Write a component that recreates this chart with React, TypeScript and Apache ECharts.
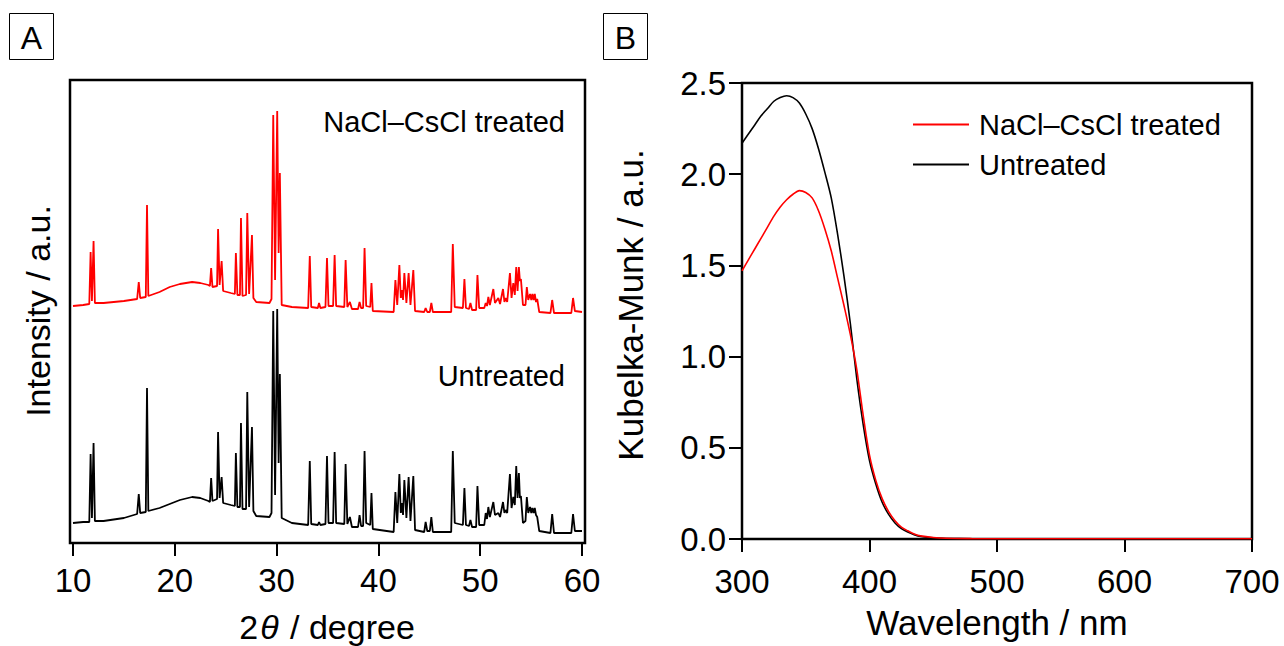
import React, { useEffect, useRef } from "react";
import * as echarts from "echarts";

const FONT = "'Liberation Sans', Arial, Helvetica, sans-serif";

// Panel A: XRD patterns, [2θ (degree), intensity (a.u., offset stacked)]
const xrdTreated: number[][] = [
  [10.0,237],[11.0,238],[11.6,239],[11.73,291],[11.86,242],[12.02,302],[12.15,240],[13.0,240],[15.0,242],[16.3,244],[16.46,261],[16.6,245],[17.15,246],[17.27,338],[17.4,247],[18.5,251],[19.5,256],[20.5,259],[21.7,261],[22.5,260],[23.3,258],[23.45,257],[23.57,275],[23.7,256],[24.15,257],[24.25,314],[24.4,258],[24.6,282],[24.75,252],[25.5,250],[25.9,249],[26.0,290],[26.15,248],[26.4,248],[26.5,325],[26.65,247],[27.0,248],[27.12,330],[27.3,249],[27.58,308],[27.72,245],[28.0,241],[29.3,240],[29.5,244],[29.67,428],[29.85,263],[30.06,432],[30.2,290],[30.32,370],[30.5,238],[31.5,236],[33.1,235],[33.26,287],[33.4,236],[34.05,235],[34.17,240],[34.3,235],[34.8,236],[34.95,285],[35.1,237],[35.55,237],[35.7,288],[35.85,237],[36.65,236],[36.78,283],[36.95,236],[37.2,241],[37.4,234],[38.0,234],[38.15,241],[38.3,235],[38.5,235],[38.64,295],[38.8,237],[39.2,236],[39.32,260],[39.45,232],[41.5,231],[41.67,263],[41.85,238],[42.06,278],[42.2,245],[42.3,253],[42.42,243],[42.55,270],[42.75,240],[42.97,270],[43.15,238],[43.43,273],[43.6,232],[44.5,231],[44.64,235],[44.8,231],[45.05,231],[45.2,240],[45.35,231],[47.15,231],[47.31,299],[47.5,236],[48.3,235],[48.45,264],[48.6,235],[48.9,234],[49.04,240],[49.2,233],[49.6,233],[49.73,268],[49.9,235],[50.4,235],[50.54,240],[50.67,237],[50.8,246],[50.95,238],[51.29,254],[51.45,240],[51.78,245],[51.95,239],[52.24,254],[52.38,241],[52.5,245],[52.65,241],[52.92,270],[53.08,245],[53.25,260],[53.4,248],[53.54,276],[53.67,252],[53.8,276],[53.9,262],[54.0,264],[54.2,238],[54.45,238],[54.58,256],[54.72,243],[54.9,249],[55.02,243],[55.13,249],[55.25,243],[55.36,249],[55.48,241],[55.6,244],[55.8,231],[56.9,230],[57.07,243],[57.25,230],[58.95,230],[59.12,245],[59.3,232],[60.0,231]
];

const xrdUntreated: number[][] = [
  [10.0,20],[11.0,21],[11.6,21],[11.73,89],[11.86,25],[12.02,100],[12.15,22],[13.0,22],[15.0,25],[16.3,29],[16.46,49],[16.6,30],[17.15,31],[17.27,155],[17.4,32],[18.5,35],[19.5,39],[20.5,43],[21.7,46],[22.5,45],[23.3,42],[23.45,41],[23.57,65],[23.7,42],[24.15,44],[24.25,111],[24.4,45],[24.6,66],[24.75,40],[25.5,38],[25.9,37],[26.0,90],[26.15,36],[26.4,36],[26.5,120],[26.65,34],[27.0,34],[27.12,151],[27.3,36],[27.58,116],[27.72,32],[28.0,27],[29.3,26],[29.5,30],[29.67,232],[29.85,48],[30.06,234],[30.2,80],[30.32,169],[30.5,25],[31.5,20],[33.1,18],[33.26,82],[33.4,19],[34.05,18],[34.17,21],[34.3,18],[34.8,19],[34.95,87],[35.1,20],[35.55,20],[35.7,91],[35.85,20],[36.65,19],[36.78,79],[36.95,19],[37.2,26],[37.4,16],[38.0,16],[38.15,28],[38.3,17],[38.5,17],[38.64,92],[38.8,20],[39.2,18],[39.32,50],[39.45,14],[41.5,11],[41.67,51],[41.85,20],[42.06,69],[42.2,30],[42.3,40],[42.42,28],[42.55,63],[42.75,25],[42.97,66],[43.15,22],[43.43,67],[43.6,13],[44.5,11],[44.64,21],[44.8,12],[45.05,12],[45.2,26],[45.35,11],[47.15,11],[47.31,92],[47.5,20],[48.3,18],[48.45,55],[48.6,18],[48.9,17],[49.04,23],[49.2,16],[49.6,16],[49.73,57],[49.9,18],[50.4,18],[50.54,30],[50.67,24],[50.8,36],[50.95,26],[51.29,41],[51.45,28],[51.78,30],[51.95,26],[52.24,41],[52.38,30],[52.5,33],[52.65,30],[52.92,69],[53.08,35],[53.25,46],[53.4,38],[53.54,77],[53.67,45],[53.8,70],[53.9,45],[54.0,47],[54.2,20],[54.45,22],[54.58,46],[54.72,30],[54.9,36],[55.02,30],[55.13,35],[55.25,30],[55.36,35],[55.48,28],[55.6,26],[55.8,12],[56.9,10],[57.07,29],[57.25,10],[58.95,10],[59.12,29],[59.3,12],[60.0,12]
];

// Panel B: Kubelka-Munk spectra, [wavelength (nm), K-M (a.u.)]
const kmTreated: number[][] = [
  [300,1.47],[305,1.53],[310,1.59],[315,1.65],[320,1.71],[325,1.77],[330,1.82],[335,1.86],[340,1.89],[345,1.91],[350,1.90],[355,1.87],[360,1.80],[365,1.70],[370,1.58],[375,1.43],[380,1.28],[385,1.12],[390,0.93],[395,0.68],[400,0.46],[405,0.32],[410,0.22],[415,0.15],[420,0.10],[425,0.065],[430,0.045],[435,0.028],[440,0.017],[450,0.008],[460,0.004],[480,0.002],[500,0.001],[600,0.001],[700,0.001]
];
const kmUntreated: number[][] = [
  [300,2.17],[305,2.22],[310,2.27],[315,2.32],[320,2.36],[325,2.40],[330,2.42],[335,2.43],[340,2.42],[345,2.39],[350,2.33],[355,2.25],[360,2.14],[365,2.01],[370,1.87],[375,1.67],[380,1.44],[385,1.18],[390,0.88],[395,0.63],[400,0.43],[405,0.30],[410,0.20],[415,0.135],[420,0.088],[425,0.057],[430,0.038],[435,0.024],[440,0.014],[450,0.006],[460,0.003],[480,0.001],[500,0.0],[600,0.0],[700,0.0]
];

const xTicksA = { min: 10, max: 60, interval: 10 };
const xTicksB = { min: 300, max: 700, interval: 100 };
const yTicksB = { min: 0, max: 2.5, interval: 0.5 };

const NAME_T = "NaCl–CsCl treated";
const NAME_U = "Untreated";

export default function App() {
  const ref = useRef<HTMLDivElement>(null);
  useEffect(() => {
    if (!ref.current) return;
    const chart = echarts.init(ref.current, null, { renderer: "svg" });
    const tick = { show: true, inside: false, length: 13, lineStyle: { color: "#000", width: 2 } };
    const label = { color: "#000", fontSize: 33, fontFamily: FONT };
    const txt = (text: string, x: number, y: number, size: number, align = "center", rot = 0) => ({
      type: "text",
      x, y, rotation: rot, z: 100,
      style: { text, x: 0, y: 0, fontSize: size, fontFamily: FONT, fill: "#000",
        align, verticalAlign: "middle", textAlign: align, textVerticalAlign: "middle" },
    });
    const option: any = {
      animation: false,
      backgroundColor: "#fff",
      textStyle: { fontFamily: FONT },
      grid: [
        { left: 73, top: 80, width: 509, height: 463 },
        { left: 742, top: 83, width: 510, height: 456 },
      ],
      xAxis: [
        { gridIndex: 0, type: "value", ...xTicksA, axisLine: { show: false }, axisTick: tick,
          axisLabel: { ...label, margin: 21 }, splitLine: { show: false } },
        { gridIndex: 1, type: "value", ...xTicksB, axisLine: { show: false }, axisTick: tick,
          axisLabel: { ...label, margin: 26 }, splitLine: { show: false } },
      ],
      yAxis: [
        { gridIndex: 0, type: "value", min: 0, max: 463, show: false },
        { gridIndex: 1, type: "value", ...yTicksB, axisLine: { show: false }, axisTick: tick,
          axisLabel: { ...label, margin: 16, formatter: (v: number) => v.toFixed(1) }, splitLine: { show: false } },
      ],
      legend: {
        data: [NAME_T, NAME_U],
        orient: "vertical",
        left: 908,
        top: 105,
        icon: "rect",
        itemWidth: 56,
        itemHeight: 2,
        itemGap: 11,
        textStyle: { fontSize: 29, color: "#000", fontFamily: FONT, padding: [0, 0, 0, 5] },
      },
      series: [
        { name: "XRD " + NAME_T, type: "line", xAxisIndex: 0, yAxisIndex: 0, data: xrdTreated,
          showSymbol: false, symbol: "none", lineStyle: { color: "#ff0000", width: 1.8 }, itemStyle: { color: "#ff0000" } },
        { name: "XRD " + NAME_U, type: "line", xAxisIndex: 0, yAxisIndex: 0, data: xrdUntreated,
          showSymbol: false, symbol: "none", lineStyle: { color: "#000", width: 1.8 }, itemStyle: { color: "#000" } },
        { name: NAME_U, type: "line", xAxisIndex: 1, yAxisIndex: 1, data: kmUntreated, smooth: 0.3,
          showSymbol: false, symbol: "none", lineStyle: { color: "#000", width: 1.6 }, itemStyle: { color: "#000" } },
        { name: NAME_T, type: "line", xAxisIndex: 1, yAxisIndex: 1, data: kmTreated, smooth: 0.3,
          showSymbol: false, symbol: "none", lineStyle: { color: "#ff0000", width: 1.6 }, itemStyle: { color: "#ff0000" } },
      ],
      graphic: [
        { type: "rect", z: 1, shape: { x: 70, y: 80, width: 515, height: 463 },
          style: { fill: "none", stroke: "#000", lineWidth: 2.5 } },
        { type: "rect", z: 1, shape: { x: 742, y: 83, width: 510, height: 456 },
          style: { fill: "none", stroke: "#000", lineWidth: 2.5 } },
        { type: "rect", z: 100, shape: { x: 9.5, y: 13.5, width: 44, height: 46 },
          style: { fill: "none", stroke: "#000", lineWidth: 1 } },
        { type: "rect", z: 100, shape: { x: 603.5, y: 13.5, width: 44, height: 46 },
          style: { fill: "none", stroke: "#000", lineWidth: 1 } },
        txt("A", 31.5, 38, 32),
        txt("B", 625.5, 38, 32),
        txt(NAME_T, 565, 122, 29, "right"),
        txt(NAME_U, 565, 376, 29, "right"),
        txt("Intensity / a.u.", 38, 311, 34, "center", Math.PI / 2),
        txt("Kubelka-Munk / a.u.", 630, 305, 35, "center", Math.PI / 2),
        txt("Wavelength / nm", 997, 622, 35),
        {
          type: "text", x: 327, y: 627, z: 100,
          style: {
            text: "{n|2}{i|θ}{n| / degree}", x: 0, y: 0, fill: "#000",
            align: "center", verticalAlign: "middle", textAlign: "center", textVerticalAlign: "middle",
            fontSize: 34, fontFamily: FONT,
            rich: {
              n: { fontSize: 34, fontFamily: FONT, fill: "#000" },
              i: { fontSize: 34, fontFamily: FONT, fontStyle: "italic", fill: "#000", padding: [0, 2, 0, 2] },
            },
          },
        },
      ],
    };
    chart.setOption(option);
    return () => chart.dispose();
  }, []);
  return <div ref={ref} style={{ position: "fixed", left: 0, top: 0, width: 1284, height: 646 }} />;
}
